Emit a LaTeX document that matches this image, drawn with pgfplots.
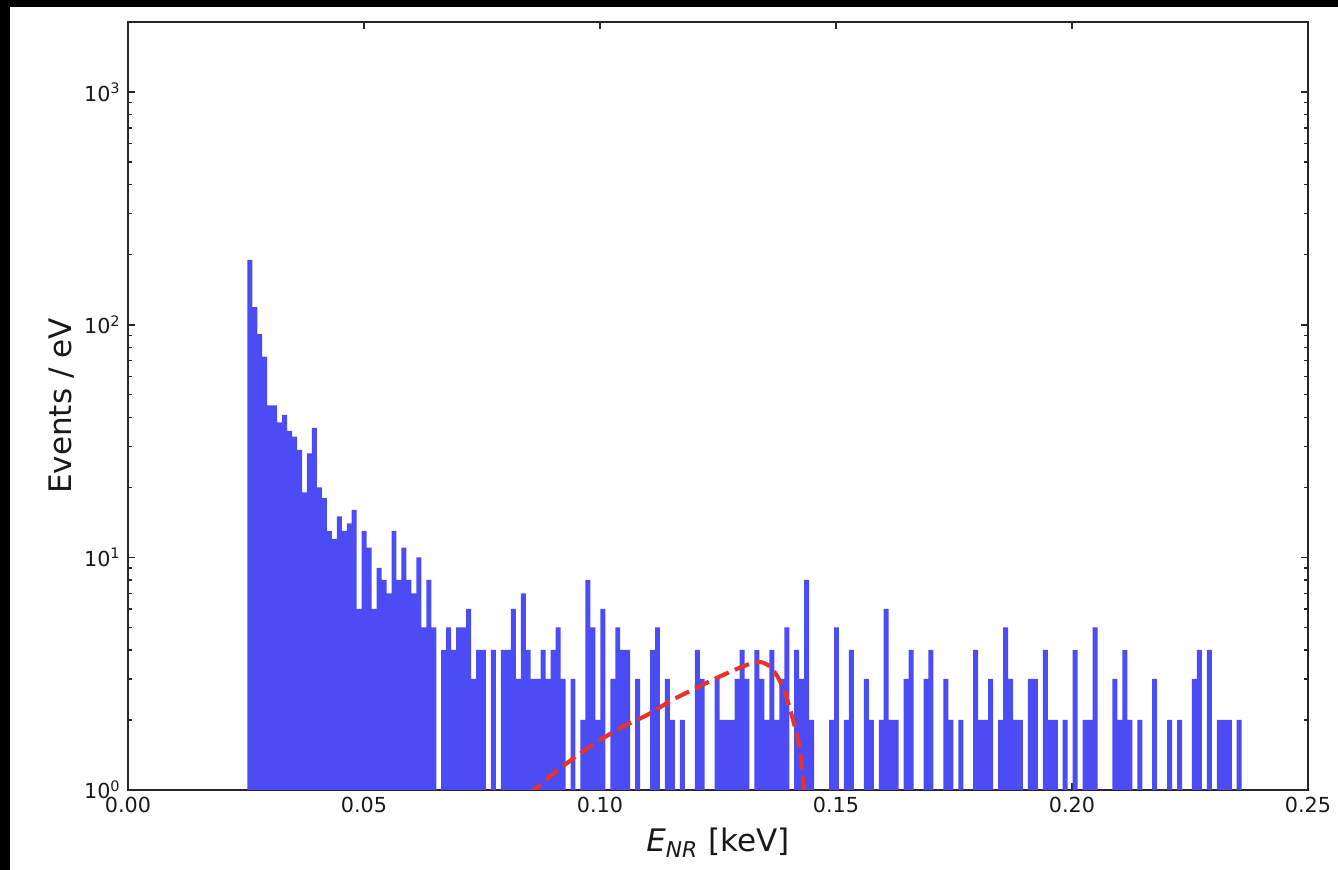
\documentclass[border=0pt]{standalone}
\usepackage{fontspec}
\setmainfont{DejaVu Sans}
\usepackage{pgfplots}
\usepackage{pgfplotstable}
\pgfplotsset{compat=1.18}
\definecolor{barblue}{RGB}{76,76,245}
\definecolor{curvered}{RGB}{232,50,44}

% histogram: bin index and events/eV (bin edges: 0.02528 + 0.0010534*bin keV)
\pgfplotstableread{
bin val
0 190
1 119
2 91
3 73
4 45
5 45
6 38
7 41
8 35
9 33
10 29
11 19
12 28
13 36
14 20
15 18
16 13
17 12
18 15
19 13
20 14
21 16
22 6
23 13
24 11
25 6
26 9
27 8
28 7
29 13
30 8
31 11
32 8
33 7
34 10
35 5
36 8
37 5
38 1
39 4
40 5
41 4
42 5
43 5
44 6
45 3
46 4
47 4
48 1
49 4
50 1
51 4
52 4
53 6
54 3
55 7
56 4
57 3
58 3
59 4
60 3
61 4
62 5
63 3
64 1
65 3
66 1
67 2
68 8
69 5
70 2
71 6
72 1
73 3
74 5
75 4
76 4
77 1
78 3
79 1
80 1
81 4
82 5
83 1
84 3
85 2
86 1
87 2
88 1
89 1
90 4
91 3
92 1
93 1
94 3
95 2
96 2
97 2
98 3
99 4
100 3
101 1
102 4
103 3
104 2
105 4
106 2
107 3
108 5
109 1
110 4
111 3
112 8
113 2
114 1
115 1
116 1
117 2
118 5
119 1
120 2
121 4
122 1
123 1
124 3
125 2
126 1
127 2
128 6
129 2
130 2
131 1
132 3
133 4
134 1
135 1
136 3
137 4
138 1
139 1
140 3
141 2
142 1
143 2
144 1
145 1
146 4
147 2
148 2
149 3
150 1
151 2
152 5
153 3
154 2
155 2
156 1
157 3
158 3
159 1
160 4
161 2
162 2
163 1
164 2
165 1
166 4
167 1
168 2
169 2
170 5
171 1
172 1
173 1
174 3
175 2
176 4
177 2
178 1
179 2
180 1
181 1
182 3
183 1
184 1
185 2
186 1
187 2
188 1
189 1
190 3
191 4
192 1
193 4
194 1
195 2
196 2
197 2
198 1
199 2
200 2
}\histdata

\pgfplotstableread{
x y
0.0850 0.96
0.0900 1.17
0.0950 1.40
0.1000 1.64
0.1050 1.88
0.1100 2.10
0.1150 2.42
0.1200 2.72
0.1250 3.05
0.1300 3.38
0.1330 3.55
0.1345 3.53
0.1360 3.40
0.1375 3.10
0.1390 2.70
0.1403 2.21
0.1412 1.90
0.1420 1.64
0.1426 1.35
0.1432 1.02
0.1440 0.70
}\curvedata

\begin{document}
\begin{tikzpicture}
\path[use as bounding box] (0,0) rectangle (646.4pt,420.3pt);
\fill[black] (0,0) rectangle (4.83pt,420.3pt);
\fill[black] (0,416.9pt) rectangle (646.4pt,420.3pt);
\begin{axis}[
  at={(61.84pt,38.65pt)}, anchor=south west,
  scale only axis, width=570.06pt, height=371.0pt,
  xmin=0, xmax=0.25, ymin=1, ymax=2000,
  ymode=log,
  axis line style={line width=0.8pt, black!85},
  every tick/.style={black!85, line width=0.8pt},
  minor tick style={line width=0.6pt},
  tick align=inside, xtick pos=both, ytick pos=both,
  xticklabel pos=bottom, yticklabel pos=left,
  major tick length=3.5pt, minor tick length=2pt,
  xtick={0,0.05,0.10,0.15,0.20,0.25},
  xticklabels={0.00,0.05,0.10,0.15,0.20,0.25},
  ytick={1,10,100,1000},
  yticklabels={10\textsuperscript{0},10\textsuperscript{1},10\textsuperscript{2},10\textsuperscript{3}},
  minor ytick={2,3,4,5,6,7,8,9,20,30,40,50,60,70,80,90,200,300,400,500,600,700,800,900,2000},
  ticklabel style={font=\fontsize{10}{12}\selectfont, text=black!90},
  xlabel={{\itshape E}\textsubscript{\itshape NR} [keV]},
  ylabel={Events / eV},
  label style={font=\fontsize{15}{18}\selectfont, text=black!90},
  xlabel style={at={(axis description cs:0.5,-0.0803)}, anchor=base},
  ylabel style={at={(axis description cs:-0.0475,0.5)}, anchor=base, rotate=0},
  clip=true,
]
\addplot[ybar interval, fill=barblue, draw=none]
  table[x expr={0.02528+\thisrow{bin}*0.0010534}, y=val] {\histdata};
\addplot[curvered, line width=2pt, dash pattern=on 7.4pt off 3.2pt, smooth, tension=0.3]
  table[x=x, y=y] {\curvedata};
\end{axis}
\end{tikzpicture}
\end{document}
